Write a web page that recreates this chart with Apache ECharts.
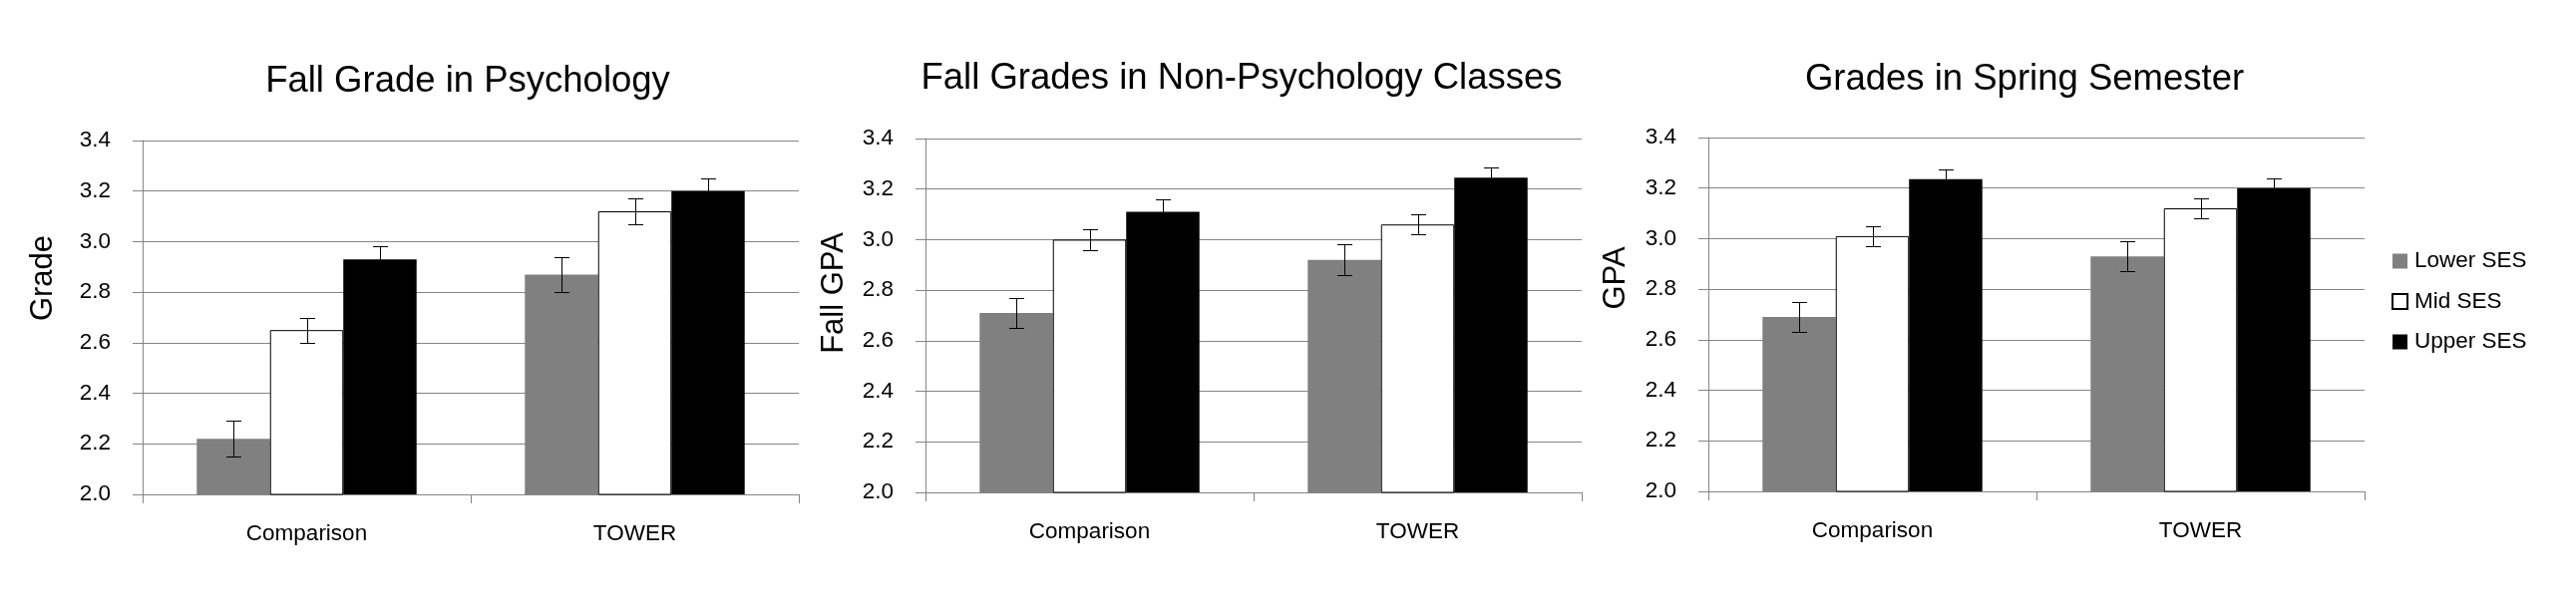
<!DOCTYPE html>
<html>
<head>
<meta charset="utf-8">
<script src="https://cdn.jsdelivr.net/npm/echarts@6/dist/echarts.min.js"></script>
<style>
html,body{margin:0;padding:0;background:#fff;}
#chart{width:2583px;height:611px;}
</style>
</head>
<body>
<div id="chart"></div>
<script>
// ---- data ----
const categories = ['Comparison', 'TOWER'];
const seriesNames = ['Lower SES', 'Mid SES', 'Upper SES'];
const chartTitles = ['Fall Grade in Psychology', 'Fall Grades in Non-Psychology Classes', 'Grades in Spring Semester'];
const yAxisNames = ['Grade', 'Fall GPA', 'GPA'];
const yMin = 2.0, yMax = 3.4, yInterval = 0.2;

const psychLower = [2.22, 2.87];
const psychMid = [2.65, 3.12];
const psychUpper = [2.93, 3.20];
const psychLowerErr = [0.07, 0.07];
const psychMidErr = [0.05, 0.05];
const psychUpperErr = [0.05, 0.05];

const nonPsychLower = [2.71, 2.92];
const nonPsychMid = [3.00, 3.06];
const nonPsychUpper = [3.11, 3.245];
const nonPsychLowerErr = [0.06, 0.06];
const nonPsychMidErr = [0.04, 0.04];
const nonPsychUpperErr = [0.05, 0.04];

const springLower = [2.69, 2.93];
const springMid = [3.01, 3.12];
const springUpper = [3.235, 3.20];
const springLowerErr = [0.06, 0.06];
const springMidErr = [0.04, 0.04];
const springUpperErr = [0.04, 0.04];

// ---- layout / style ----
const FONT = '"Liberation Sans", Arial, sans-serif';
const GRID_COLOR = '#858585';
const CAT_GAP = 0.33;
const grids = [
  {left: 143, top: 141, width: 658, height: 355},
  {left: 928, top: 139, width: 658, height: 355},
  {left: 1713, top: 138, width: 658, height: 355}
];
const titlePos = [[469, 82], [1245, 79], [2030, 80]];
const yNamePos = [[43.5, 279], [836, 294], [1620, 279]];
const barStyles = [
  {color: '#808080'},
  {color: '#ffffff', borderColor: '#000', borderWidth: 1},
  {color: '#000000'}
];
const chartValues = [
  [psychLower, psychMid, psychUpper],
  [nonPsychLower, nonPsychMid, nonPsychUpper],
  [springLower, springMid, springUpper]
];
const chartErrors = [
  [psychLowerErr, psychMidErr, psychUpperErr],
  [nonPsychLowerErr, nonPsychMidErr, nonPsychUpperErr],
  [springLowerErr, springMidErr, springUpperErr]
];

function errSeries(g, values, errs) {
  const data = [];
  for (let c = 0; c < categories.length; c++) {
    for (let k = 0; k < values.length; k++) {
      data.push([c, k, values[k][c], errs[k][c]]);
    }
  }
  return {
    type: 'custom', name: 'err' + g, xAxisIndex: g, yAxisIndex: g, z: 5, silent: true,
    encode: {x: 0, y: 2},
    renderItem: function (params, api) {
      const c = api.value(0), k = api.value(1), v = api.value(2), e = api.value(3);
      const band = api.size([1, 0])[0];
      const bw = band * (1 - CAT_GAP) / 3;
      const base = api.coord([c, v]);
      const x = Math.round(base[0] + (k - 1) * bw) + 0.5;
      const yT = Math.round(api.coord([c, v + e])[1]) + 0.5;
      const yB = Math.round(api.coord([c, v - e])[1]) + 0.5;
      const cw = 7.5;
      const st = {stroke: '#000', lineWidth: 1};
      return {type: 'group', children: [
        {type: 'line', shape: {x1: x, y1: yT, x2: x, y2: yB}, style: st},
        {type: 'line', shape: {x1: x - cw, y1: yT, x2: x + cw, y2: yT}, style: st},
        {type: 'line', shape: {x1: x - cw, y1: yB, x2: x + cw, y2: yB}, style: st}
      ]};
    },
    data: data
  };
}

const option = {
  animation: false,
  backgroundColor: '#fff',
  textStyle: {fontFamily: FONT},
  title: chartTitles.map((t, i) => ({
    text: t, left: titlePos[i][0], top: titlePos[i][1], padding: 0,
    textAlign: 'center', textVerticalAlign: 'middle',
    textStyle: {fontFamily: FONT, fontSize: 36.5, fontWeight: 'normal', color: '#000'}
  })),
  legend: {
    data: seriesNames, orient: 'vertical', left: 2398, top: 250.5, padding: 0,
    itemWidth: 15, itemHeight: 15, itemGap: 17.5, icon: 'rect',
    textStyle: {fontFamily: FONT, fontSize: 22.5, lineHeight: 22, color: '#000', padding: [0, 0, 0, 2]}
  },
  graphic: yAxisNames.map((n, i) => ({
    type: 'text', x: yNamePos[i][0], y: yNamePos[i][1], rotation: Math.PI / 2,
    style: {text: n, font: '31px ' + FONT, fill: '#000', align: 'center', verticalAlign: 'middle'}
  })),
  grid: grids,
  xAxis: grids.map((g, i) => ({
    type: 'category', gridIndex: i, data: categories,
    axisLine: {lineStyle: {color: GRID_COLOR, width: 1}},
    axisTick: {show: true, length: 9, lineStyle: {color: GRID_COLOR}},
    axisLabel: {fontFamily: FONT, fontSize: 22.5, color: '#000', margin: 28}
  })),
  yAxis: grids.map((g, i) => ({
    type: 'value', gridIndex: i, min: yMin, max: yMax, interval: yInterval,
    axisLine: {show: true, lineStyle: {color: GRID_COLOR, width: 1}},
    axisTick: {show: true, length: 10, lineStyle: {color: GRID_COLOR}},
    splitLine: {show: true, lineStyle: {color: GRID_COLOR, width: 1}},
    axisLabel: {fontFamily: FONT, fontSize: 22.5, color: '#000', margin: 32,
      formatter: v => v.toFixed(1)}
  })),
  series: []
};

chartValues.forEach((vals, g) => {
  vals.forEach((arr, k) => {
    option.series.push({
      type: 'bar', name: seriesNames[k], xAxisIndex: g, yAxisIndex: g,
      data: arr, barGap: '0%', barCategoryGap: (CAT_GAP * 100) + '%',
      itemStyle: barStyles[k], silent: true
    });
  });
  option.series.push(errSeries(g, vals, chartErrors[g]));
});

const chart = echarts.init(document.getElementById('chart'), null, {renderer: 'canvas'});
chart.setOption(option);
</script>
</body>
</html>
